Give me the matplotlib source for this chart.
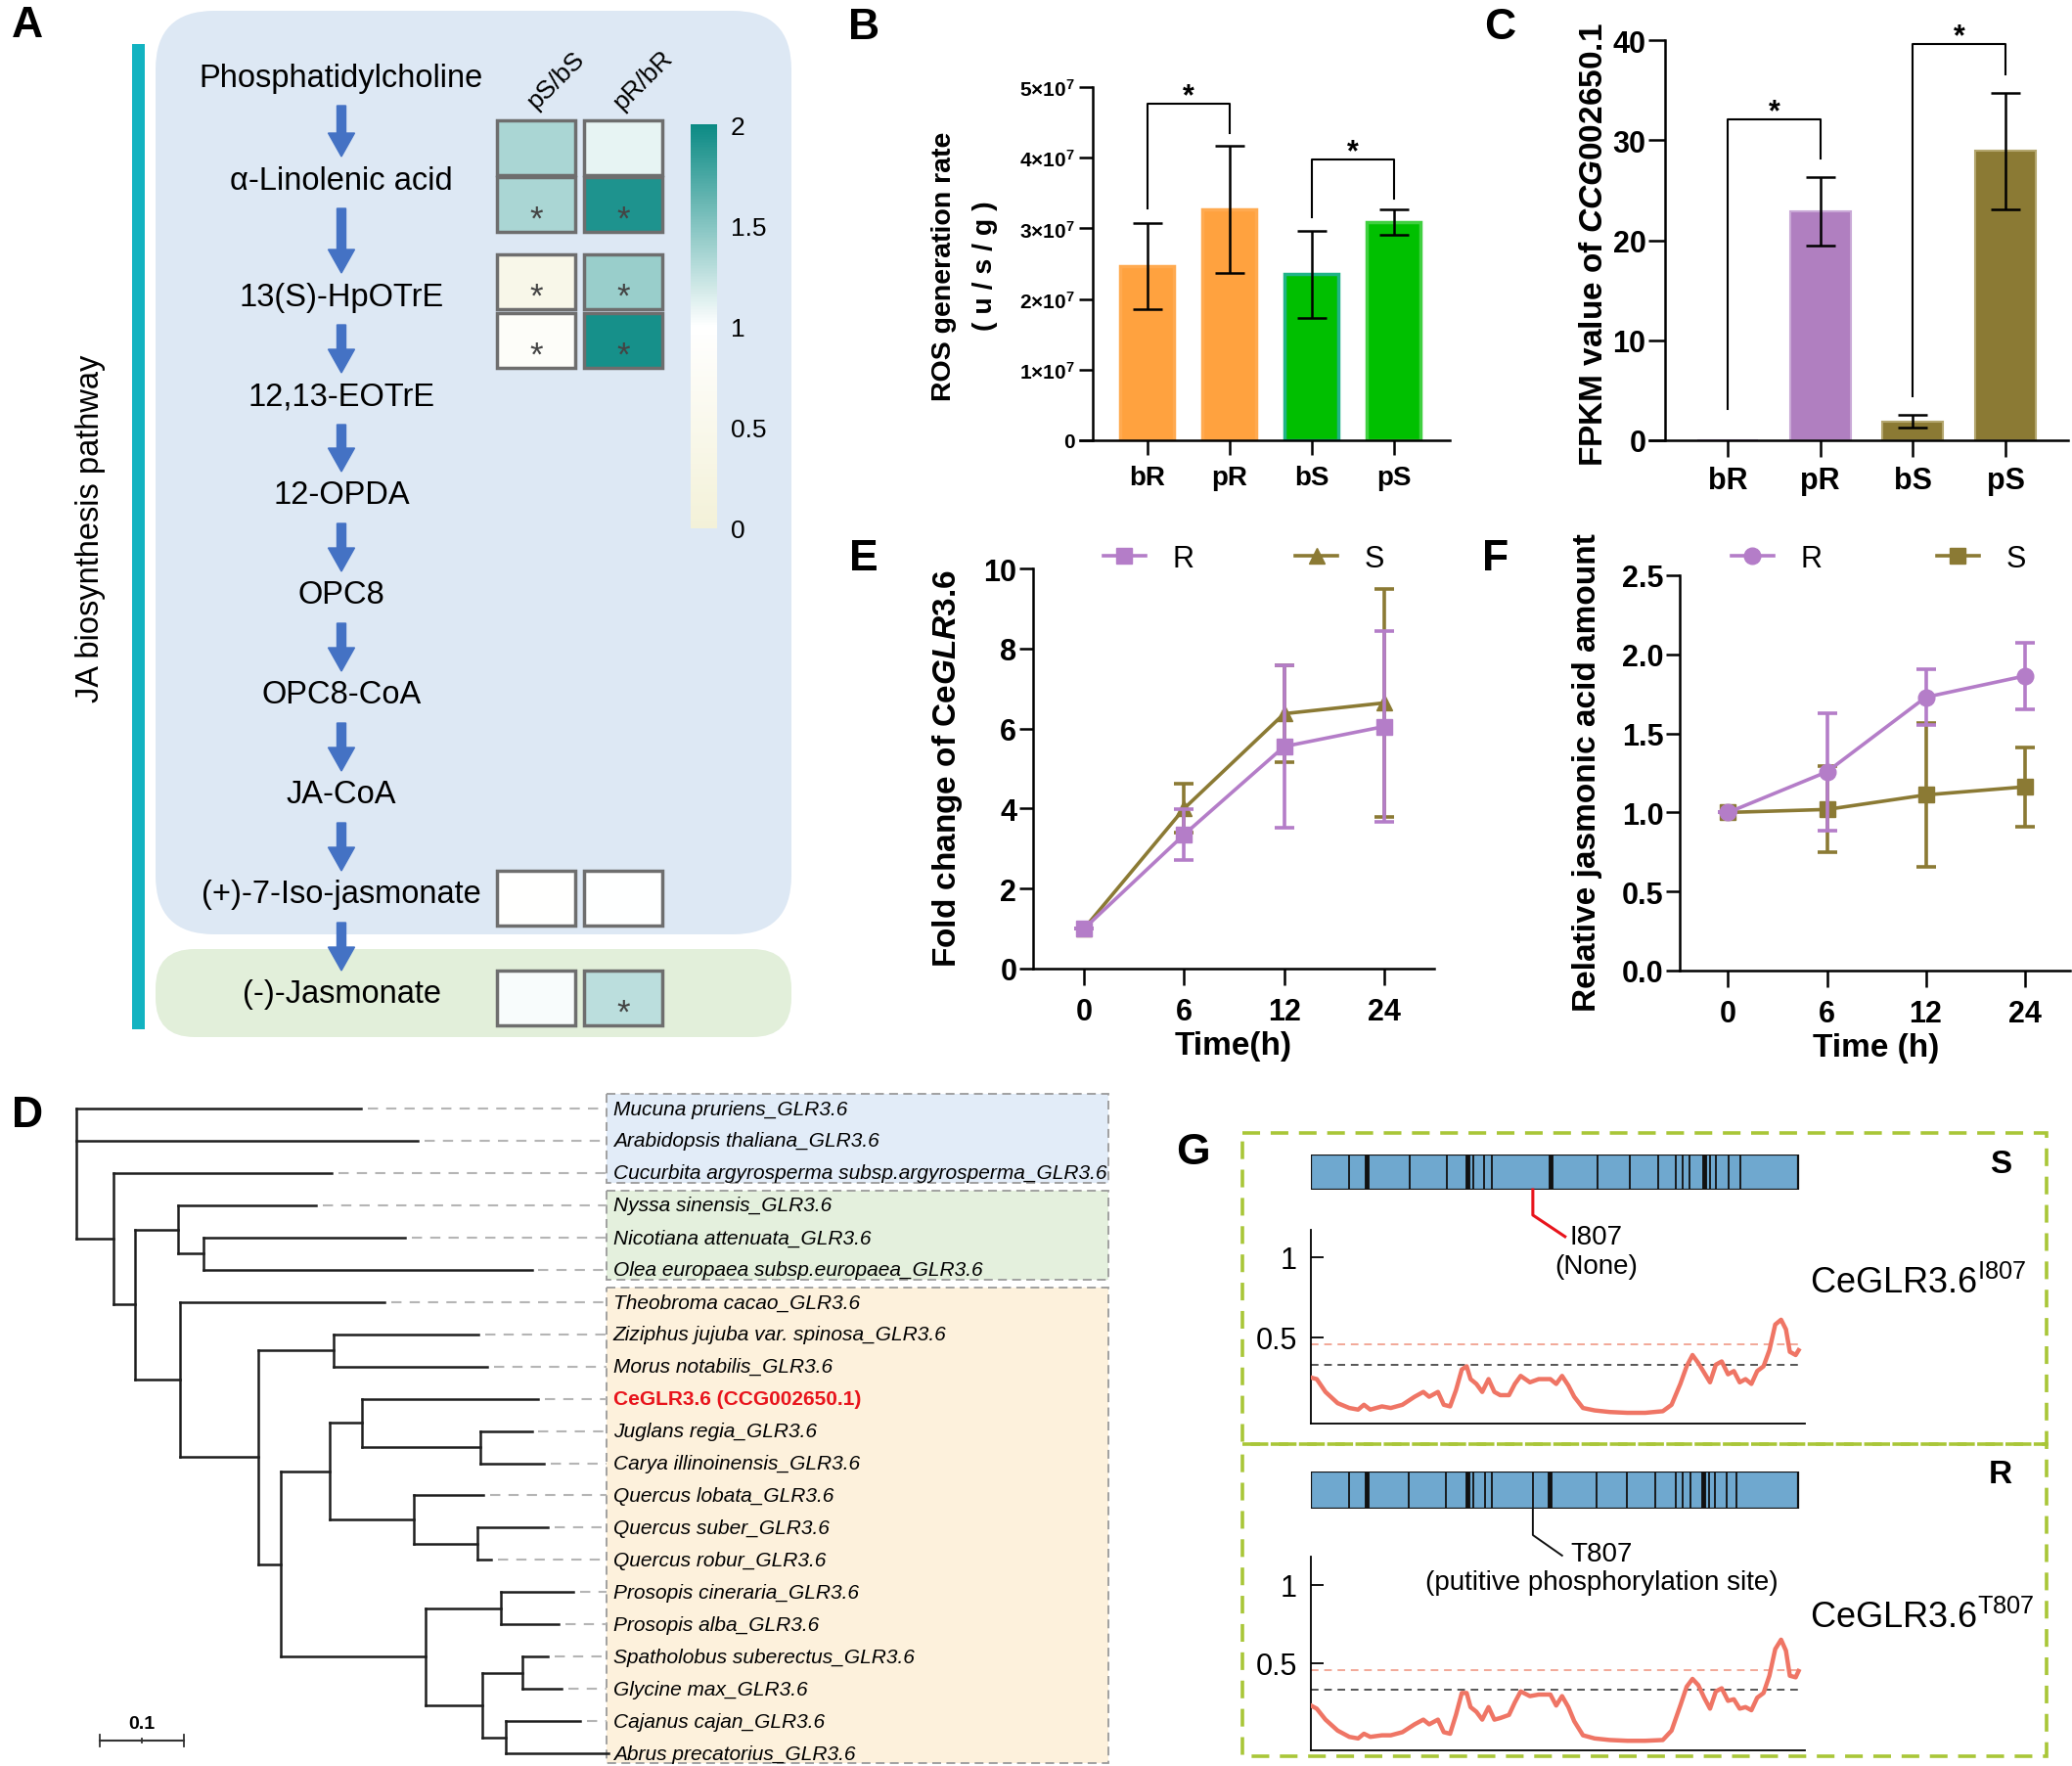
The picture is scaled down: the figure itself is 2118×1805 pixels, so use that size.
import numpy as np
import matplotlib
matplotlib.use('Agg')
import matplotlib.pyplot as plt
from matplotlib.patches import Rectangle, FancyBboxPatch
from matplotlib.colors import LinearSegmentedColormap, Normalize
from matplotlib.cm import ScalarMappable
from matplotlib.lines import Line2D

plt.rcParams['font.family'] = ['Liberation Sans', 'DejaVu Sans']
plt.rcParams['mathtext.fontset'] = 'custom'
plt.rcParams['mathtext.rm'] = 'Liberation Sans:bold'
plt.rcParams['mathtext.it'] = 'Liberation Sans:italic:bold'
plt.rcParams['mathtext.bf'] = 'Liberation Sans:bold'
plt.rcParams['mathtext.sf'] = 'Liberation Sans'

W, H = 2118, 1806

# ---------------- data ----------------
# A: JA pathway and fold-change heatmap
pathway = ['Phosphatidylcholine', 'α-Linolenic acid', '13(S)-HpOTrE', '12,13-EOTrE',
           '12-OPDA', 'OPC8', 'OPC8-CoA', 'JA-CoA', '(+)-7-Iso-jasmonate', '(-)-Jasmonate']
heat_cols = ['pS/bS', 'pR/bR']
heat_pS_bS = [1.35, 1.35, 0.45, 0.85, 0.98, 1.03]
heat_pR_bR = [1.10, 1.92, 1.42, 1.95, 1.00, 1.28]
heat_sig_pS = [False, True, True, True, False, False]
heat_sig_pR = [False, True, True, True, False, True]

# B: ROS generation rate
groups = ['bR', 'pR', 'bS', 'pS']
ros_mean = [2.46e7, 3.27e7, 2.35e7, 3.09e7]
ros_sd = [0.61e7, 0.895e7, 0.615e7, 0.185e7]
ros_sig = [(0, 1, 4.76e7, 3.28e7, 4.35e7), (2, 3, 3.97e7, 3.16e7, 3.42e7)]

# C: FPKM of CCG002650.1
fpkm_mean = [0.0, 22.9, 1.9, 28.9]
fpkm_sd = [0.0, 3.4, 0.6, 5.85]
fpkm_sig = [(0, 1, 32.1, 3.1, 28.2), (2, 3, 39.6, 4.4, 36.6)]

# E / F: time courses
time_labels = ['0', '6', '12', '24']
glr_R = [1.0, 3.35, 5.55, 6.05]
glr_R_sd = [0.0, 0.63, 2.03, 2.38]
glr_S = [1.0, 4.0, 6.37, 6.64]
glr_S_sd = [0.0, 0.61, 1.2, 2.85]
ja_R = [1.0, 1.257, 1.729, 1.863]
ja_R_sd = [0.0, 0.37, 0.176, 0.21]
ja_S = [1.0, 1.019, 1.111, 1.162]
ja_S_sd = [0.0, 0.273, 0.457, 0.25]

# D: GLR3.6 tree
newick = ("(Mp:0.339,At:0.406,(Ca:0.260,((Ns:0.164,(Na:0.240,Oe:0.391):0.030):0.051,"
          "(Tc:0.244,((Zj:0.173,Mn:0.183):0.089,(((Ce:0.210,(Jr:0.061,Ci:0.076):0.141):0.038,"
          "(Ql:0.082,(Qs:0.084,Qr:0.017):0.075):0.100):0.059,((Pc:0.086,Pa:0.069):0.089,"
          "((Ss:0.030,Gm:0.047):0.048,(Cc:0.089,Ap:0.122):0.028):0.067):0.173):0.026):0.094):0.053):0.026):0.044);")
leaf_labels = {
    'Mp': 'Mucuna pruriens_GLR3.6', 'At': 'Arabidopsis thaliana_GLR3.6',
    'Ca': 'Cucurbita argyrosperma subsp.argyrosperma_GLR3.6',
    'Ns': 'Nyssa sinensis_GLR3.6', 'Na': 'Nicotiana attenuata_GLR3.6',
    'Oe': 'Olea europaea subsp.europaea_GLR3.6', 'Tc': 'Theobroma cacao_GLR3.6',
    'Zj': 'Ziziphus jujuba var. spinosa_GLR3.6', 'Mn': 'Morus notabilis_GLR3.6',
    'Ce': 'CeGLR3.6 (CCG002650.1)', 'Jr': 'Juglans regia_GLR3.6',
    'Ci': 'Carya illinoinensis_GLR3.6', 'Ql': 'Quercus lobata_GLR3.6',
    'Qs': 'Quercus suber_GLR3.6', 'Qr': 'Quercus robur_GLR3.6',
    'Pc': 'Prosopis cineraria_GLR3.6', 'Pa': 'Prosopis alba_GLR3.6',
    'Ss': 'Spatholobus suberectus_GLR3.6', 'Gm': 'Glycine max_GLR3.6',
    'Cc': 'Cajanus cajan_GLR3.6', 'Ap': 'Abrus precatorius_GLR3.6'}
clade_sizes = [3, 3, 15]

# G: disorder / phosphorylation profile along the protein (% of sequence)
g_pos = [0, 1.2, 3.0, 5.5, 7.9, 9.7, 10.9, 12.2, 14.6, 16.4, 18.8, 21.3, 23.1, 24.3, 26.1,
         27.3, 28.6, 29.8, 31.0, 32.0, 32.8, 34.0, 35.2, 36.5, 37.7, 38.9, 40.7, 41.9, 43.1,
         45.0, 46.8, 49.2, 50.4, 51.6, 52.9, 54.1, 55.9, 58.3, 61.4, 65.0, 68.7, 72.3, 74.1,
         75.9, 77.2, 78.4, 79.6, 80.8, 82.0, 83.2, 84.4, 85.7, 86.9, 88.1, 89.3, 90.5, 91.7,
         93.0, 94.2, 95.4, 96.6, 97.6, 98.4, 99.6, 100.2]
g_S = [0.25, 0.24, 0.16, 0.09, 0.06, 0.05, 0.08, 0.05, 0.07, 0.06, 0.08, 0.13, 0.16, 0.13, 0.16,
       0.08, 0.07, 0.17, 0.30, 0.32, 0.24, 0.21, 0.16, 0.24, 0.16, 0.14, 0.14, 0.21, 0.26, 0.22,
       0.24, 0.24, 0.21, 0.26, 0.20, 0.13, 0.06, 0.045, 0.035, 0.03, 0.03, 0.04, 0.08, 0.21, 0.32,
       0.39, 0.34, 0.28, 0.22, 0.33, 0.35, 0.27, 0.29, 0.22, 0.24, 0.21, 0.29, 0.32, 0.42, 0.58,
       0.61, 0.55, 0.41, 0.39, 0.42]
g_R = [0.23, 0.21, 0.14, 0.07, 0.03, 0.02, 0.05, 0.03, 0.04, 0.04, 0.06, 0.11, 0.14, 0.11, 0.14,
       0.06, 0.05, 0.17, 0.31, 0.31, 0.22, 0.19, 0.14, 0.22, 0.14, 0.15, 0.17, 0.25, 0.32, 0.29,
       0.30, 0.30, 0.23, 0.29, 0.22, 0.13, 0.04, 0.02, 0.01, 0.005, 0.005, 0.01, 0.07, 0.23, 0.35,
       0.40, 0.36, 0.28, 0.21, 0.32, 0.34, 0.26, 0.27, 0.21, 0.22, 0.20, 0.28, 0.31, 0.42, 0.59,
       0.65, 0.58, 0.42, 0.41, 0.45]
g_thr_pink = 0.455
g_thr_gray = 0.33
dom_S = [7.9, 11.5, 20.3, 27.9, 32.2, 33.4, 35.6, 37.1, 49.2, 58.9, 65.6, 71.4, 75.0, 76.3,
         77.8, 80.8, 82.0, 83.2, 85.9, 88.3]
dom_S_thick = [0, 1, 0, 0, 1, 0, 0, 0, 1, 0, 0, 0, 0, 0, 0, 1, 0, 0, 0, 0]
dom_R = [7.9, 11.5, 20.0, 27.7, 32.2, 33.4, 35.8, 37.1, 45.6, 49.0, 58.7, 65.0, 70.8, 75.0,
         76.3, 77.9, 80.6, 81.8, 83.0, 85.4, 87.5]
dom_R_thick = [0, 1, 0, 0, 1, 0, 0, 0, 0, 1, 0, 0, 0, 0, 0, 0, 1, 0, 0, 0, 0]
site_807 = 45.6

# ---------------- layout helpers ----------------
PURPLE = '#b47dc8'
OLIVE = '#8b7a34'


def px_rect(x0, y0, x1, y1):
    return [x0 / W, 1 - y1 / H, (x1 - x0) / W, (y1 - y0) / H]


def bold_ticks(ax):
    for lab in ax.get_xticklabels() + ax.get_yticklabels():
        lab.set_fontweight('bold')


fig = plt.figure(figsize=(W / 100, H / 100), dpi=100)
ov = fig.add_axes([0, 0, 1, 1])
ov.set_xlim(0, W)
ov.set_ylim(H, 0)
ov.axis('off')

for letter, (lx, ly) in zip('ABCEFDG', [(28, 27), (883, 29), (1533, 29), (883, 572),
                                         (1529, 572), (28, 1141), (1219, 1179)]):
    ov.text(lx, ly, letter, fontsize=32, fontweight='bold', ha='center', va='center')

# ---------------- A ----------------
ov.add_patch(FancyBboxPatch((159, 12), 650, 944, boxstyle='round,pad=0,rounding_size=60',
                            fc='#dde8f4', ec='none', zorder=0))
ov.add_patch(FancyBboxPatch((159, 971), 650, 90, boxstyle='round,pad=0,rounding_size=40',
                            fc='#e2efda', ec='none', zorder=0))
ov.add_patch(Rectangle((135, 46), 13, 1007, fc='#12b3c1', ec='none'))
ov.text(93, 540, 'JA biosynthesis pathway', rotation=90, ha='center', va='center', fontsize=23.5)

step_y = [80, 185, 304, 406, 507, 609, 711, 813, 915, 1017]
for k, name in enumerate(pathway):
    ov.text(349, step_y[k], name, ha='center', va='center', fontsize=23.5, zorder=3)
for k in range(len(pathway) - 1):
    y0, y1 = step_y[k] + 29, step_y[k + 1] - 24
    ov.arrow(349, y0, 0, y1 - y0, width=9, head_width=27, head_length=24,
             length_includes_head=True, color='#4472c4', zorder=3)

heat_cmap = LinearSegmentedColormap.from_list('fc', [(0, '#f3f1d8'), (0.5, '#ffffff'), (1, '#0b8a84')])
heat_norm = Normalize(0, 2)
row_top = [124, 182, 261, 321, 891, 993]
col_x = [508, 597]
for r in range(len(row_top)):
    for c, (vals, sig) in enumerate([(heat_pS_bS, heat_sig_pS), (heat_pR_bR, heat_sig_pR)]):
        ov.add_patch(Rectangle((col_x[c], row_top[r]), 80, 56, fc=heat_cmap(heat_norm(vals[r])),
                               ec='#6e6e6e', lw=2.5, zorder=3))
        if sig[r]:
            ov.text(col_x[c] + 40, row_top[r] + 28 + 25, '*', ha='center', va='baseline',
                    fontsize=25, color='#444444', zorder=4)
for c, lab in enumerate(heat_cols):
    ov.text(col_x[c] + 60, 82, lab, rotation=45, ha='center', va='center', fontsize=19)

cax = fig.add_axes(px_rect(706, 128, 733, 541))
cb = fig.colorbar(ScalarMappable(heat_norm, heat_cmap), cax=cax)
cb.outline.set_visible(False)
cb.set_ticks([0, 0.5, 1, 1.5, 2])
cb.set_ticklabels(['0', '0.5', '1', '1.5', '2'])
cax.tick_params(length=0, labelsize=19, pad=10)

# ---------------- B ----------------
axB = fig.add_axes(px_rect(1104, 90, 1482, 451))
axB.set_facecolor('none')
xB = np.arange(len(groups))
axB.bar(xB, ros_mean, width=0.655, color=['#ffa23f', '#ffa23f', '#00bf00', '#00c000'],
        edgecolor=['#ffaa50', '#ffaa50', '#20b487', '#40d040'], linewidth=2.5, zorder=2)
axB.errorbar(xB, ros_mean, yerr=ros_sd, fmt='none', ecolor='black', elinewidth=1.8,
             capsize=11, capthick=1.8, zorder=3)
axB.set_xlim(-0.82, 3.68)
axB.set_ylim(0, 5e7)
axB.spines[['top', 'right']].set_visible(False)
axB.spines['left'].set_position(('data', -0.665))
for s in ['left', 'bottom']:
    axB.spines[s].set_linewidth(1.8)
axB.set_yticks(np.arange(0, 5.1e7, 1e7))
axB.set_yticklabels(['0'] + [f'{i}×10$^{{\\mathrm{{7}}}}$' for i in range(1, 6)])
axB.set_xticks(xB, groups)
axB.tick_params(axis='y', width=1.8, length=10, labelsize=15, pad=3)
axB.tick_params(axis='x', width=1.8, length=11, labelsize=20, pad=7)
bold_ticks(axB)
for i, j, y, yl, yr in ros_sig:
    axB.plot([i, i, j, j], [yl, y, y, yr], color='black', lw=1.5, clip_on=False)
    axB.text((i + j) / 2, y, '*', ha='center', va='baseline', fontsize=22, fontweight='bold')
ov.text(965, 272, 'ROS generation rate', rotation=90, ha='center', va='center',
        fontsize=20.5, fontweight='bold')
ov.text(1007, 272, '( u / s / g )', rotation=90, ha='center', va='center',
        fontsize=20.5, fontweight='bold')

# ---------------- C ----------------
axC = fig.add_axes(px_rect(1686, 42, 2114, 451))
axC.set_facecolor('none')
axC.bar(xB, fpkm_mean, width=0.655, color=[PURPLE, '#b07fc0', OLIVE, OLIVE],
        edgecolor=['#c9a8d6', '#c9a8d6', '#b3a66e', '#b3a66e'], linewidth=1.5, zorder=2)
axC.errorbar(xB[1:], fpkm_mean[1:], yerr=fpkm_sd[1:], fmt='none', ecolor='black',
             elinewidth=1.8, capsize=11, capthick=1.8, zorder=3)
axC.set_xlim(-0.845, 3.675)
axC.set_ylim(0, 40)
axC.spines[['top', 'right']].set_visible(False)
axC.spines['left'].set_position(('data', -0.676))
for s in ['left', 'bottom']:
    axC.spines[s].set_linewidth(1.8)
axC.set_yticks([0, 10, 20, 30, 40])
axC.set_xticks(xB, groups)
axC.tick_params(axis='y', width=1.8, length=12, labelsize=22, pad=2)
axC.tick_params(axis='x', width=1.8, length=12, labelsize=22, pad=7)
bold_ticks(axC)
for i, j, y, yl, yr in fpkm_sig:
    axC.plot([i, i, j, j], [yl, y, y, yr], color='black', lw=1.5, clip_on=False)
    axC.text((i + j) / 2, y, '*', ha='center', va='baseline', fontsize=22, fontweight='bold')
ov.text(1630, 250, r'FPKM value of $\it{CCG002650.1}$', rotation=90, ha='center', va='center',
        fontsize=24, fontweight='bold')


# ---------------- E / F ----------------
def time_panel(rect, xlim, ylim, yticks, yfmt, r, rsd, s, ssd, rmark, smark, leg_x, colsp):
    ax = fig.add_axes(px_rect(*rect))
    ax.set_facecolor('none')
    xt = np.arange(len(time_labels))
    kw = dict(lw=2.6, ms=12, capsize=7, capthick=2.6, elinewidth=2.6, clip_on=False)
    ax.errorbar(xt, s, yerr=ssd, color=OLIVE, marker=smark, zorder=3, **kw)
    ax.errorbar(xt, r, yerr=rsd, color=PURPLE, marker=rmark, zorder=4, **kw)
    ax.set_xlim(*xlim)
    ax.set_ylim(*ylim)
    ax.spines[['top', 'right']].set_visible(False)
    for sp in ['left', 'bottom']:
        ax.spines[sp].set_linewidth(1.8)
    ax.set_xticks(xt, time_labels)
    ax.set_yticks(yticks)
    ax.set_yticklabels([yfmt.format(v) for v in yticks])
    ax.tick_params(axis='y', width=1.8, length=10, labelsize=22, pad=2)
    ax.tick_params(axis='x', width=1.8, length=12, labelsize=22, pad=9)
    bold_ticks(ax)
    handles = [Line2D([], [], color=PURPLE, marker=rmark, lw=2.6, ms=12),
               Line2D([], [], color=OLIVE, marker=smark, lw=2.6, ms=12)]
    ax.legend(handles, ['R', 'S'], ncol=2, frameon=False, loc='center left',
              bbox_to_anchor=(leg_x / W, 1 - 572 / H), bbox_transform=fig.transFigure,
              borderpad=0, borderaxespad=0, handlelength=1.4, handletextpad=0.9,
              columnspacing=colsp, fontsize=22)
    return ax


time_panel((1056, 582, 1466, 991), (-0.51, 3.5), (0, 10), [0, 2, 4, 6, 8, 10], '{:g}',
           glr_R, glr_R_sd, glr_S, glr_S_sd, 's', '^', 1128, 3.4)
ov.text(969, 786, r'Fold change of Ce$\it{GLR}$3.6', rotation=90, ha='center', va='center',
        fontsize=24, fontweight='bold')
ov.text(1261, 1070, 'Time(h)', ha='center', va='center', fontsize=24, fontweight='bold')

time_panel((1717, 589, 2116, 993), (-0.49, 3.46), (0, 2.5), [0, 0.5, 1.0, 1.5, 2.0, 2.5], '{:.1f}',
           ja_R, ja_R_sd, ja_S, ja_S_sd, 'o', 's', 1770, 3.85)
ov.text(1622, 790, 'Relative jasmonic acid amount', rotation=90, ha='center', va='center',
        fontsize=24, fontweight='bold')
ov.text(1918, 1072, 'Time (h)', ha='center', va='center', fontsize=24, fontweight='bold')


# ---------------- D ----------------
def parse_newick(s):
    pos = 0

    def node():
        nonlocal pos
        children = []
        if s[pos] == '(':
            pos += 1
            while True:
                children.append(node())
                if s[pos] == ',':
                    pos += 1
                else:
                    break
            pos += 1
        start = pos
        while s[pos] not in ':,);':
            pos += 1
        name = s[start:pos]
        length = 0.0
        if s[pos] == ':':
            pos += 1
            start = pos
            while s[pos] not in ',);':
                pos += 1
            length = float(s[start:pos])
        return {'name': name, 'len': length, 'children': children}

    return node()


def layout(n, x0, leaves):
    n['x'] = x0 + n['len']
    if not n['children']:
        n['y'] = len(leaves)
        leaves.append(n)
    else:
        for c in n['children']:
            layout(c, n['x'], leaves)
        n['y'] = (n['children'][0]['y'] + n['children'][-1]['y']) / 2


root = parse_newick(newick)
leaves = []
layout(root, 0.0, leaves)

axD = fig.add_axes(px_rect(40, 1100, 1140, 1806))
axD.set_facecolor('none')
axD.set_xlim(-0.0442, 1.2363)
axD.set_ylim(20.39, -1.032)
axD.axis('off')

box_l, box_r = 0.631, 1.228
clade_colors = ['#e2ecf8', '#e4f0dd', '#fdf1dc']
start = 0
for size, col in zip(clade_sizes, clade_colors):
    first, last = start, start + size - 1
    axD.add_patch(Rectangle((box_l, first - 0.45), box_r - box_l, last - first + 0.75,
                            fc=col, ec='#9a9a9a', lw=1.3, ls=(0, (5, 3)), zorder=0))
    start += size


def draw_tree(n):
    if n['children']:
        ys = [c['y'] for c in n['children']]
        axD.plot([n['x'], n['x']], [min(ys), max(ys)], color='#1e1e1e', lw=1.8,
                 solid_capstyle='projecting')
        for c in n['children']:
            axD.plot([n['x'], c['x']], [c['y'], c['y']], color='#1e1e1e', lw=1.8,
                     solid_capstyle='projecting')
            draw_tree(c)


draw_tree(root)
for lf in leaves:
    if lf['x'] < box_l:
        axD.plot([lf['x'] + 0.008, box_l], [lf['y'], lf['y']], color='#b5b5b5', lw=1.5,
                 dashes=(5, 4))
    lab = leaf_labels[lf['name']]
    if lf['name'] == 'Ce':
        axD.text(0.639, lf['y'], lab, va='center', ha='left', fontsize=15, color='#e8141c',
                 fontweight='bold')
    else:
        axD.text(0.639, lf['y'], lab, va='center', ha='left', fontsize=15, style='italic')

axD.plot([0.028, 0.128], [19.6, 19.6], color='#333333', lw=1.5)
for xs, hh in [(0.028, 0.18), (0.078, 0.06), (0.128, 0.18)]:
    axD.plot([xs, xs], [19.6 - hh, 19.6 + hh], color='#333333', lw=1.3)
axD.text(0.078, 19.2, '0.1', ha='center', va='baseline', fontsize=14, fontweight='bold')

# ---------------- G ----------------
GREEN = '#a9c638'
ov.add_patch(Rectangle((1270, 1159), 822, 318, fc='none', ec=GREEN, lw=2.6, ls=(0, (5, 3))))
ov.add_patch(Rectangle((1270, 1477), 822, 319, fc='none', ec=GREEN, lw=2.6, ls=(0, (5, 3))))
narrow = ['Liberation Sans Narrow', 'Liberation Sans']
ov.text(2045, 1191, 'S', ha='center', va='center', fontsize=24, fontweight='bold')
ov.text(2045, 1508, 'R', ha='center', va='center', fontsize=24, fontweight='bold')
ov.text(1850, 1312, r'CeGLR3.6$^{\mathsf{I807}}$', ha='left', va='center', fontsize=26, family=narrow)
ov.text(1850, 1654, r'CeGLR3.6$^{\mathsf{T807}}$', ha='left', va='center', fontsize=26, family=narrow)


def protein_bar(rect, bounds, thick):
    ax = fig.add_axes(px_rect(*rect))
    ax.set_facecolor('none')
    ax.set_xlim(0, 101.5)
    ax.set_ylim(0, 1)
    ax.axis('off')
    ax.add_patch(Rectangle((0, 0), 100, 1, fc='#6fa8cf', ec='#111111', lw=1.6))
    for b, t in zip(bounds, thick):
        ax.plot([b, b], [0, 1], color='#111111', lw=3.5 if t else 1.3)
    return ax


def profile(rect, vals, ylim):
    ax = fig.add_axes(px_rect(*rect))
    ax.set_facecolor('none')
    ax.plot(g_pos, vals, color='#ef7565', lw=3.2, zorder=3)
    ax.axhline(g_thr_pink, xmin=0, xmax=100 / 101.5, color='#f2a898', lw=1.4, dashes=(4, 3))
    ax.axhline(g_thr_gray, xmin=0, xmax=100 / 101.5, color='#555555', lw=1.4, dashes=(4, 3))
    ax.set_xlim(0, 101.5)
    ax.set_ylim(*ylim)
    ax.spines[['top', 'right']].set_visible(False)
    for sp in ['left', 'bottom']:
        ax.spines[sp].set_linewidth(1.3)
    ax.set_xticks([])
    ax.set_yticks([0.5, 1])
    ax.set_yticklabels(['0.5', '1'], family=narrow)
    ax.tick_params(axis='y', direction='in', length=9, width=1.3, labelsize=22, pad=10)
    return ax


bS = protein_bar((1340, 1181, 1845, 1217), dom_S, dom_S_thick)
bS.plot([site_807, site_807, site_807 + 6.6], [0, -0.72, -1.33], color='#e8141c', lw=2.2,
        clip_on=False)
bS.text(58.6, -1.75, 'I807\n(None)', ha='center', va='center', fontsize=20, linespacing=1.15,
        family=narrow)
profile((1340, 1258, 1845, 1456), g_S, (-0.037, 1.17))

bR = protein_bar((1340, 1505, 1845, 1543), dom_R, dom_R_thick)
bR.plot([site_807, site_807, site_807 + 6.0], [0, -0.71, -1.26], color='#111111', lw=1.4,
        clip_on=False)
bR.text(59.8, -1.58, 'T807\n(putitive phosphorylation site)', ha='center', va='center',
        fontsize=20, linespacing=1.15, family=narrow)
profile((1340, 1592, 1845, 1790), g_R, (-0.056, 1.18))

fig.savefig('out.png', dpi=100, facecolor='white')
